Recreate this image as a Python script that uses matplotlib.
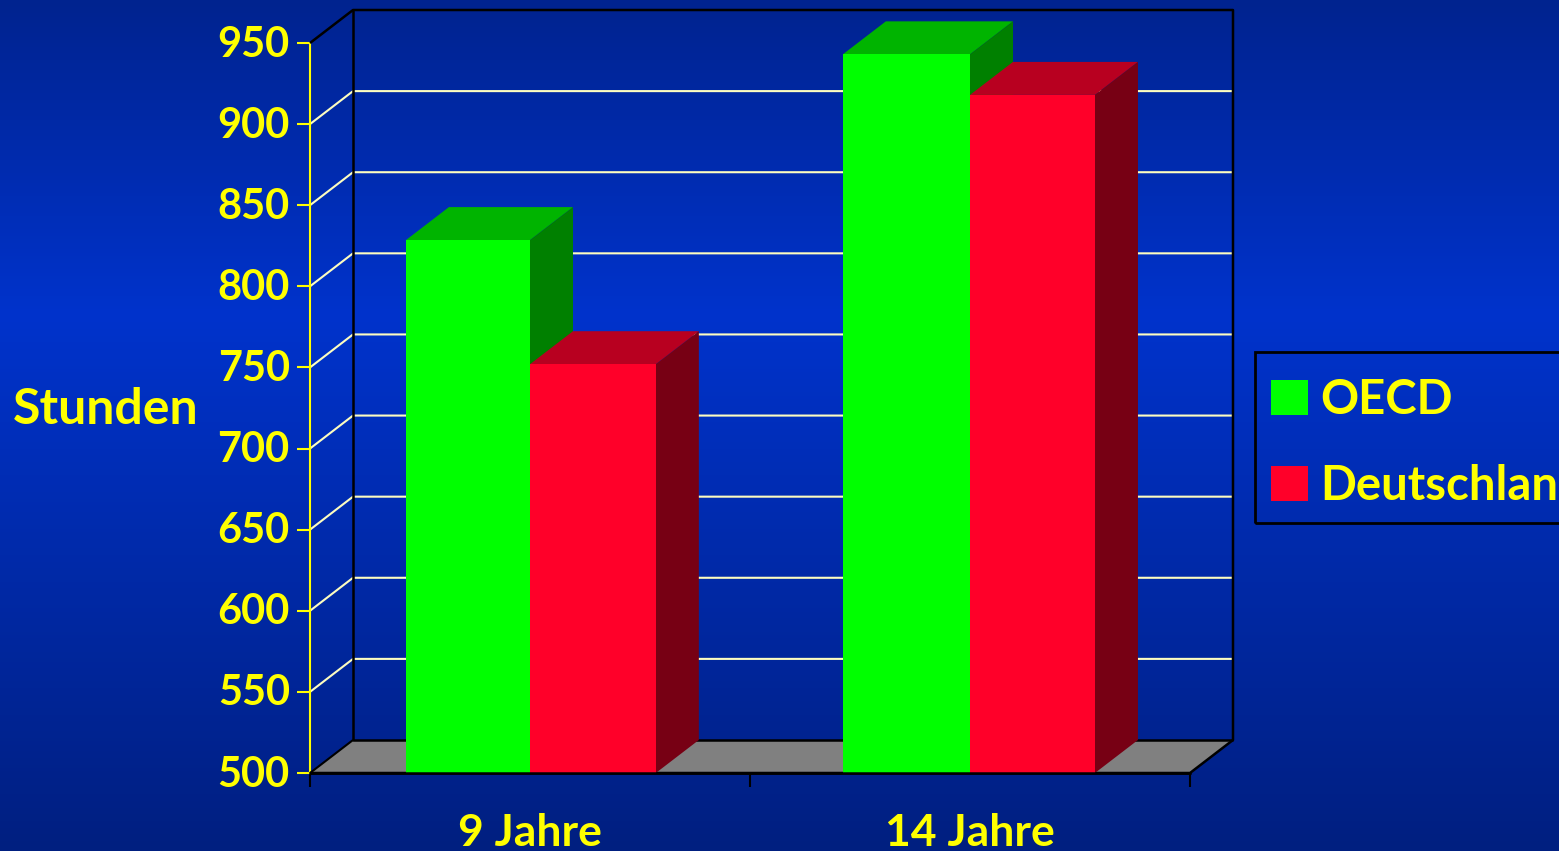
import numpy as np
import matplotlib
matplotlib.use("Agg")
import matplotlib.pyplot as plt
from matplotlib.colors import LinearSegmentedColormap
from matplotlib.patches import Patch, Polygon, Rectangle
from matplotlib.transforms import ScaledTranslation

kategorien = ["9 Jahre", "14 Jahre"]
oecd = [828.5, 943]
deutschland = [752, 918]
y_ticks = [500, 550, 600, 650, 700, 750, 800, 850, 900, 950]

GELB = "#ffff00"
DX = 43 / 440      # Tiefe in x (Kategorien)
DY = 33 / (730 / 450)   # Tiefe in y (Stunden)

plt.rcParams["font.family"] = ["Lato", "DejaVu Sans"]
plt.rcParams["font.weight"] = "bold"

fig = plt.figure(figsize=(15.59, 8.51), dpi=100)

# Hintergrund
bg = fig.add_axes([0, 0, 1, 1], zorder=0)
cmap = LinearSegmentedColormap.from_list("bg", [(0, "#00238f"), (0.37, "#0033cc"), (1, "#001f80")])
bg.imshow(np.linspace(0, 1, 256).reshape(-1, 1), cmap=cmap, aspect="auto")
bg.axis("off")

ax = fig.add_axes([310 / 1559, (851 - 773) / 851, 880 / 1559, 730 / 851], zorder=1)
ax.patch.set_alpha(0)
ax.set_xlim(0, 2)
ax.set_ylim(500, 950)


def poly(pts, color, z):
    ax.add_patch(Polygon(pts, closed=True, facecolor=color, edgecolor="none", zorder=z, clip_on=False))


def linie(xs, ys, color, lw, z):
    ax.plot(xs, ys, color=color, lw=lw, zorder=z, clip_on=False, solid_capstyle="butt")


# Boden und Wand
poly([(0, 500), (2, 500), (2 + DX, 500 + DY), (DX, 500 + DY)], "#808080", 1)
for v in y_ticks[1:-1]:
    linie([0, DX, 2 + DX], [v, v + DY, v + DY], "#fdfdc0", 1.5, 2)
linie([0, DX, 2 + DX, 2 + DX, 2, 0], [950, 950 + DY, 950 + DY, 500 + DY, 500, 500], "black", 1.8, 3)
linie([DX, DX, 2 + DX], [950 + DY, 500 + DY, 500 + DY], "black", 1.8, 3)
linie([0, DX], [500, 500 + DY], "black", 1.5, 3)


def balken(x, breite, werte, front, seite, deckel, z):
    ax.bar(x, np.array(werte) - 500, breite, bottom=500, color=front, align="edge", zorder=z + 1)
    for xi, b, w in zip(x, breite, werte):
        poly([(xi, w), (xi + b, w), (xi + b + DX, w + DY), (xi + DX, w + DY)], deckel, z)
        poly([(xi + b, 500), (xi + b + DX, 500 + DY), (xi + b + DX, w + DY), (xi + b, w)], seite, z)


balken([0.218, 1.211], [0.282, 0.289], oecd, "#00ff00", "#008000", "#00b400", 4)
balken([0.5, 1.5], [0.286, 0.284], deutschland, "#ff0029", "#770014", "#b80020", 6)

linie([0, 2], [500, 500], "black", 1.8, 9)

# Achsen
for s in ["top", "right"]:
    ax.spines[s].set_visible(False)
ax.spines["left"].set_color(GELB)
ax.spines["left"].set_linewidth(1.5)
ax.spines["bottom"].set_color("black")
ax.spines["bottom"].set_linewidth(1.8)

ax.set_yticks(y_ticks)
ax.tick_params(axis="y", colors=GELB, labelsize=30, length=9.5, width=1.5, pad=5)
for lab in ax.get_yticklabels():
    lab.set_transform(lab.get_transform() + ScaledTranslation(0, 2 / 100, fig.dpi_scale_trans))
ax.set_xticks([0, 1, 2])
ax.set_xticklabels([])
ax.tick_params(axis="x", which="major", color="black", length=10, width=1.5)
ax.set_xticks([0.5, 1.5], minor=True)
ax.set_xticklabels(kategorien, minor=True)
ax.tick_params(axis="x", which="minor", length=0, labelcolor=GELB, labelsize=32, pad=29)

ax.set_ylabel("Stunden", rotation=0, color=GELB, fontsize=36, fontweight="bold", ha="center", va="center")
ax.yaxis.set_label_coords(-0.232, 0.498)

# Legende
fig.add_artist(Rectangle((1255 / 1559, (851 - 523) / 851), 400 / 1559, 171 / 851, transform=fig.transFigure,
                         facecolor="none", edgecolor="black", lw=2, clip_on=False))
handles = [Patch(facecolor="#00ff00", edgecolor="none"), Patch(facecolor="#ff0029", edgecolor="none")]
ax.legend(handles, ["OECD", "Deutschland"], loc="upper left",
          bbox_to_anchor=(1271 / 1559, (851 - 378) / 851), bbox_transform=fig.transFigure,
          fontsize=34, labelcolor=GELB, frameon=False, borderaxespad=0, borderpad=0, labelspacing=0.885,
          handlelength=0.78, handleheight=0.76, handletextpad=0.26)

fig.savefig("out.png", dpi=100)
